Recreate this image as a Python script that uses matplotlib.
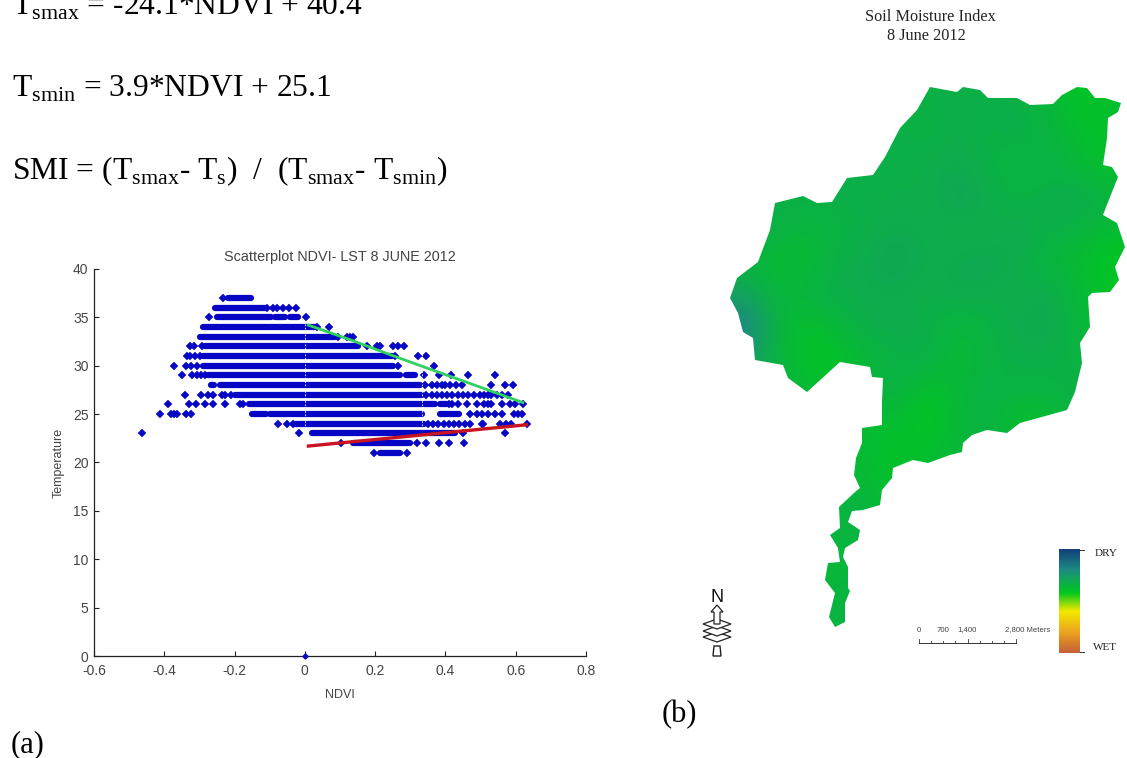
import numpy as np
import matplotlib
matplotlib.use("Agg")
import matplotlib.pyplot as plt
from matplotlib.colors import LinearSegmentedColormap
from matplotlib.patches import Polygon

# ---------- scatter data ----------
temp_levels = [37, 36, 35, 34, 33, 32, 31, 30, 29, 28, 27, 26, 25, 24, 23, 22, 21]
dense_runs = [
    [(-0.218, -0.152)],
    [(-0.256, -0.114)],
    [(-0.251, -0.095), (-0.085, -0.057), (-0.043, -0.019)],
    [(-0.289, 0.033)],
    [(-0.299, 0.085)],
    [(-0.285, 0.152)],
    [(-0.289, 0.247)],
    [(-0.289, 0.251)],
    [(-0.275, 0.270), (0.289, 0.313)],
    [(-0.268, -0.259), (-0.242, 0.327)],
    [(-0.199, 0.332)],
    [(-0.160, 0.332), (0.340, 0.370), (0.385, 0.405)],
    [(-0.150, -0.110), (-0.100, 0.332), (0.385, 0.440)],
    [(-0.030, 0.338)],
    [(0.020, 0.427)],
    [(0.138, 0.299)],
    [(0.214, 0.271)],
]
single_points = [
    [-0.232],
    [-0.109, -0.090, -0.079, -0.062, -0.044, -0.024],
    [-0.273, 0.002],
    [0.035, 0.069],
    [0.095, 0.119, 0.128, 0.137],
    [-0.326, -0.316, -0.294, 0.176, 0.204, 0.213, 0.251, 0.266, 0.283],
    [-0.335, -0.326, -0.313, -0.299, 0.256, 0.321, 0.346],
    [-0.373, -0.339, -0.323, -0.308, 0.266, 0.367],
    [-0.351, -0.320, -0.308, -0.296, -0.285, 0.339, 0.382, 0.416, 0.463, 0.541],
    [0.342, 0.361, 0.376, 0.391, 0.400, 0.412, 0.430, 0.448, 0.531, 0.569, 0.593],
    [-0.340, -0.296, -0.275, -0.261, -0.237, -0.228, -0.209, 0.345, 0.362, 0.376, 0.390, 0.404,
     0.420, 0.435, 0.450, 0.465, 0.480, 0.497, 0.510, 0.520, 0.530, 0.546, 0.560, 0.578],
    [-0.390, -0.331, -0.309, -0.285, -0.261, -0.228, -0.185, -0.175, 0.410, 0.420, 0.436, 0.460,
     0.490, 0.510, 0.520, 0.530, 0.560, 0.584, 0.598, 0.620],
    [-0.412, -0.381, -0.372, -0.363, -0.339, -0.325, 0.470, 0.490, 0.505, 0.520, 0.540, 0.560,
     0.595, 0.607, 0.617],
    [-0.076, -0.052, -0.033, 0.350, 0.365, 0.380, 0.395, 0.410, 0.425, 0.440, 0.455, 0.470, 0.505,
     0.508, 0.555, 0.572, 0.586, 0.633],
    [-0.464, -0.018, 0.451, 0.569],
    [0.102, 0.318, 0.345, 0.382, 0.409, 0.454],
    [0.196, 0.290],
]
origin_ndvi, origin_temp = [0.0], [0.0]

green_ndvi = [0.010, 0.128, 0.261, 0.337, 0.460, 0.620]
green_temp = [34.2, 32.7, 30.9, 29.9, 28.3, 26.2]
red_ndvi = [0.010, 0.631]
red_temp = [21.7, 23.9]

x_ticks = [-0.6, -0.4, -0.2, 0, 0.2, 0.4, 0.6, 0.8]
x_tick_labels = ['-0.6', '-0.4', '-0.2', '0', '0.2', '0.4', '0.6', '0.8']
y_ticks = [0, 5, 10, 15, 20, 25, 30, 35, 40]

# ---------- map data (pixel outline and SMI values) ----------
basin_x = [930, 957, 963, 980, 988, 1017, 1030, 1053, 1062, 1077, 1087, 1095, 1105, 1121, 1118, 1108,
           1107, 1103, 1112, 1118, 1112, 1103, 1117, 1125, 1115, 1119, 1110, 1092, 1088, 1090, 1080,
           1082, 1075, 1067, 1020, 1007, 987, 972, 963, 962, 950, 928, 913, 893, 892, 882, 880, 863,
           852, 848, 860, 858, 845, 843, 848, 848, 850, 845, 845, 835, 829, 835, 825, 828, 840, 838,
           830, 840, 839, 855, 860, 854, 856, 862, 862, 882, 882, 883, 872, 870, 840, 807, 788, 783,
           755, 753, 743, 738, 730, 737, 758, 770, 775, 803, 817, 832, 847, 873, 885, 900, 917]
basin_y = [87, 92, 87, 90, 98, 98, 105, 104, 95, 87, 88, 98, 98, 103, 112, 118,
           138, 165, 167, 177, 192, 215, 223, 247, 267, 280, 292, 293, 297, 327, 343,
           363, 392, 410, 423, 433, 430, 435, 443, 452, 455, 463, 460, 468, 478, 490, 505, 510,
           511, 522, 530, 540, 548, 557, 567, 588, 591, 603, 622, 627, 617, 593, 580, 563, 562, 548,
           535, 528, 507, 492, 488, 475, 458, 443, 428, 425, 402, 378, 377, 367, 362, 392, 378, 365,
           360, 338, 332, 313, 298, 278, 262, 230, 203, 196, 203, 202, 178, 175, 157, 128, 110]
smi_grid = [
    [67, 67, 67, 67, 67, 67, 66, 68, 67, 67, 64, 59, 62],
    [67, 67, 67, 67, 67, 67, 66, 68, 66, 68, 66, 62, 60],
    [67, 67, 67, 67, 67, 67, 68, 69, 67, 64, 66, 64, 60],
    [67, 67, 67, 67, 67, 68, 67, 71, 68, 66, 68, 69, 66],
    [67, 67, 64, 66, 67, 69, 68, 67, 67, 69, 67, 66, 62],
    [66, 62, 62, 67, 69, 71, 68, 69, 70, 68, 64, 62, 58],
    [72, 64, 66, 68, 68, 68, 67, 69, 68, 67, 69, 64, 60],
    [84, 66, 60, 64, 68, 69, 67, 64, 66, 69, 70, 64, 60],
    [74, 66, 60, 60, 64, 66, 68, 62, 66, 67, 67, 66, 64],
    [70, 67, 62, 62, 64, 67, 60, 64, 67, 66, 66, 68, 67],
    [67, 67, 66, 66, 62, 62, 58, 64, 66, 60, 62, 66, 66],
    [66, 64, 64, 64, 62, 60, 62, 64, 67, 66, 58, 60, 64],
    [66, 64, 64, 64, 64, 60, 62, 68, 66, 64, 62, 62, 64],
    [66, 64, 64, 66, 67, 60, 60, 64, 62, 62, 62, 62, 64],
    [66, 64, 64, 64, 64, 62, 62, 62, 62, 62, 62, 62, 62],
    [66, 64, 64, 64, 65, 64, 62, 62, 62, 62, 62, 62, 62],
    [66, 64, 64, 66, 66, 64, 62, 62, 62, 62, 62, 62, 62],
]
cbar_stops = [0.0, 0.19, 0.40, 0.58, 0.80, 1.0]
cbar_colors = ['#c4603a', '#e9a020', '#f5e900', '#00c81e', '#1c8c82', '#123f7a']

formula_1 = r'T$_{\mathrm{smax}}$ = -24.1*NDVI + 40.4'
formula_2 = r'T$_{\mathrm{smin}}$ = 3.9*NDVI + 25.1'
formula_3 = r'SMI = (T$_{\mathrm{smax}}$- T$_{\mathrm{s}}$)  /  (T$_{\mathrm{smax}}$- T$_{\mathrm{smin}}$)'
scale_labels = [(919, '0'), (943, '700'), (967, '1,400'), (1028, '2,800 Meters')]

# ---------- figure ----------
plt.rcParams['mathtext.fontset'] = 'custom'
plt.rcParams['mathtext.rm'] = 'Liberation Serif'
W, H = 1127, 758
fig = plt.figure(figsize=(W / 100, H / 100), dpi=100, facecolor='white')

bg = fig.add_axes([0, 0, 1, 1], zorder=0)
bg.set_xlim(0, W)
bg.set_ylim(H, 0)
bg.axis('off')

SERIF = 'Liberation Serif'
SANS = 'Liberation Sans'
for txt, yb in [(formula_1, 15), (formula_2, 97), (formula_3, 179)]:
    bg.text(12, yb, txt, family=SERIF, fontsize=22.7, color='black', ha='left', va='baseline')
bg.text(11, 752, '(a)', family=SERIF, fontsize=22, color='black', ha='left', va='baseline')
bg.text(662, 722, '(b)', family=SERIF, fontsize=22, color='black', ha='left', va='baseline')
bg.text(930, 17, 'Soil Moisture Index', family=SERIF, fontsize=11.7, color='#222222', ha='center', va='center')
bg.text(926, 36, '8 June 2012', family=SERIF, fontsize=11.7, color='#222222', ha='center', va='center')

# scatter axes
L, R, T, B = 94, 586, 269, 656
ax = fig.add_axes([L / W, 1 - B / H, (R - L) / W, (B - T) / H], zorder=1)
ax.patch.set_alpha(0)
ax.set_xlim(-0.6, 0.8)
ax.set_ylim(0, 40)
blue = '#0606c4'
for t, runs, pts in zip(temp_levels, dense_runs, single_points):
    for a, b in runs:
        ax.plot([a, b], [t, t], color=blue, lw=4.5, solid_capstyle='round', zorder=2)
    ax.plot(pts, [t] * len(pts), ls='none', marker='D', ms=3.7, mfc=blue, mec=blue, mew=0.3, zorder=2)
ax.plot(origin_ndvi, origin_temp, ls='none', marker='D', ms=2.6, color=blue, clip_on=False, zorder=4)
ax.vlines([0.0, 0.332], 23.5, 34.5, color='white', lw=0.6, linestyles=(0, (2, 2)), zorder=3)
ax.plot(green_ndvi, green_temp, color='#2fd060', lw=2.0, zorder=5)
ax.plot(red_ndvi, red_temp, color='#c81420', lw=2.4, zorder=5)
for s in ('top', 'right'):
    ax.spines[s].set_visible(False)
for s in ('left', 'bottom'):
    ax.spines[s].set_linewidth(0.9)
    ax.spines[s].set_color('#222222')
ax.set_xticks(x_ticks, x_tick_labels)
ax.set_yticks(y_ticks)
ax.tick_params(axis='both', direction='in', length=3.8, width=0.8, color='#222222', labelcolor='#444444',
               labelsize=10)
ax.tick_params(axis='x', pad=6)
ax.tick_params(axis='y', pad=4)
for lab in ax.get_xticklabels() + ax.get_yticklabels():
    lab.set_family(SANS)
ax.set_xlabel('NDVI', family=SANS, fontsize=9, color='#444444', labelpad=8)
ax.set_ylabel('Temperature', family=SANS, fontsize=9, color='#444444', labelpad=6)
ax.set_title('Scatterplot NDVI- LST 8 JUNE 2012', family=SANS, fontsize=10.4, color='#444444', pad=6)

# map
cmap = LinearSegmentedColormap.from_list('smi', list(zip(cbar_stops, cbar_colors)))
grid = np.array(smi_grid, dtype=float) / 100
im = bg.imshow(grid, cmap=cmap, vmin=0, vmax=1, extent=(730, 1126, 630, 87), interpolation='bicubic',
               aspect='auto', zorder=1)
clip = Polygon(np.column_stack([basin_x, basin_y]), closed=True, transform=bg.transData, fc='none', ec='none')
bg.add_patch(clip)
im.set_clip_path(clip)
bg.set_xlim(0, W)
bg.set_ylim(H, 0)

# colour bar
gradient = np.linspace(1, 0, 256).reshape(-1, 1)
bg.imshow(gradient, cmap=cmap, vmin=0, vmax=1, extent=(1059, 1080, 653, 549), aspect='auto', zorder=1)
bg.set_xlim(0, W)
bg.set_ylim(H, 0)
for yt in (550, 652):
    bg.plot([1080, 1084], [yt, yt], color='#333333', lw=0.7)
bg.text(1095, 553, 'DRY', family=SERIF, fontsize=8, color='#222222', ha='left', va='center')
bg.text(1093, 648, 'WET', family=SERIF, fontsize=8, color='#222222', ha='left', va='center')

# scale bar
bg.plot([919, 1016], [643, 643], color='#333333', lw=0.7)
for i in range(9):
    tx = 919 + i * 97 / 8
    bg.plot([tx, tx], [643, 639 if i % 4 == 0 else 641], color='#333333', lw=0.6)
for x0, s in scale_labels:
    bg.text(x0, 630, s, family=SANS, fontsize=5.6, color='#444444', ha='center', va='center')

# north arrow
bg.text(717, 597, 'N', family=SANS, fontsize=13, color='#111111', ha='center', va='center')
for yc in (637, 631, 624):
    bg.add_patch(Polygon([(703, yc), (717, yc - 5), (731, yc), (717, yc + 5)], closed=True,
                         fc='white', ec='#222222', lw=0.9))
bg.add_patch(Polygon([(714, 624), (714, 612), (711, 612), (717, 605), (723, 612), (720, 612), (720, 624)],
                     closed=True, fc='white', ec='#222222', lw=0.9))
bg.add_patch(Polygon([(713, 656), (721, 656), (720, 646), (714, 646)], closed=True, fc='white', ec='#222222', lw=1.0))

fig.savefig('out.png', dpi=100, facecolor='white')
